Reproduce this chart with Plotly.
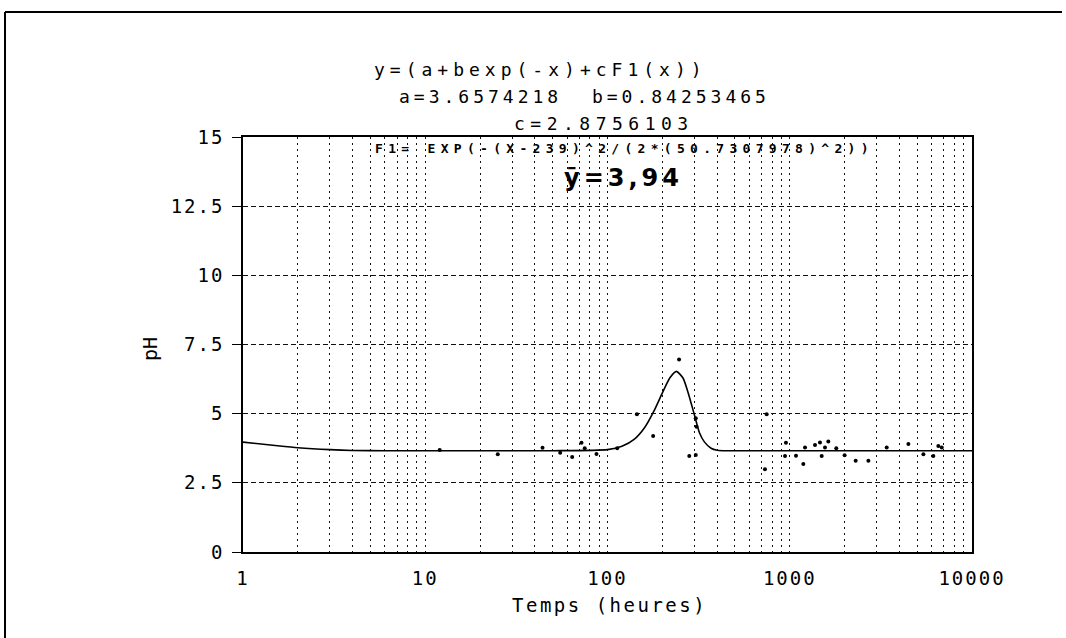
import plotly.graph_objects as go

# ---- data ----
curve_x = [1, 1.5, 2, 3, 4, 6, 10, 50, 100, 120, 140, 160, 180, 200, 220, 239, 260, 280, 300, 320, 340, 370, 400, 450, 10000]
curve_y = [3.97, 3.85, 3.77, 3.70, 3.67, 3.66, 3.66, 3.66, 3.70, 3.82, 4.07, 4.50, 5.10, 5.75, 6.30, 6.53, 6.28, 5.65, 4.95, 4.30, 3.98, 3.75, 3.68, 3.66, 3.66]

pts_x = [12, 25, 44, 55, 64, 72, 75, 87, 113, 145, 178, 247, 305, 308, 281, 305,
         731, 747, 942, 953, 1082, 1187, 1213, 1376, 1465, 1497, 1561, 1628,
         1800, 2000, 2300, 2700, 3404, 4477, 5412, 6136, 6535, 6823]
pts_y = [3.69, 3.53, 3.77, 3.59, 3.43, 3.95, 3.75, 3.54, 3.75, 4.98, 4.19, 6.96, 4.83, 4.53, 3.47, 3.51,
         2.99, 4.98, 3.47, 3.95, 3.48, 3.18, 3.78, 3.87, 3.96, 3.47, 3.78, 3.99,
         3.75, 3.50, 3.30, 3.30, 3.78, 3.90, 3.53, 3.47, 3.83, 3.78]

x_grid = [m * 10 ** e for e in range(0, 4) for m in range(1, 10)] + [10000]
x_major = [1, 10, 100, 1000, 10000]
y_ticks = [0, 2.5, 5, 7.5, 10, 12.5, 15]
y_labels = ["0", "2.5", "5", "7.5", "10", "12.5", "15"]

title_lines = ["y=(a+bexp(-x)+cF1(x))", "a=3.6574218  b=0.84253465", "c=2.8756103"]
f1_text = "F1= EXP(-(X-239)^2/(2*(50.7307978)^2))"
ybar_text = "ȳ=3,94"
x_title = "Temps (heures)"
y_title = "pH"

# ---- geometry (pixels) ----
W, H = 1066, 638
L, R, T, B = 243, 972, 137, 552
PW, PH = R - L, B - T


def px(x):
    return (x - L) / PW


def py(y):
    return (B - y) / PH


MONO = "DejaVu Sans Mono"


def sp(s, ls):
    return f"<span style='letter-spacing:{ls}px'>{s}</span>"


fig = go.Figure()
fig.add_trace(go.Scatter(x=curve_x, y=curve_y, mode="lines", line=dict(color="black", width=1.6, shape="spline", smoothing=0.6),
                         hoverinfo="skip", showlegend=False))
fig.add_trace(go.Scatter(x=pts_x, y=pts_y, mode="markers", marker=dict(color="black", size=4),
                         showlegend=False))

x_text = [sp(str(v), 2) if v in x_major else "" for v in x_grid]

fig.update_layout(
    width=W, height=H, autosize=False,
    margin=dict(l=L, r=W - R, t=T, b=H - B, pad=0),
    paper_bgcolor="white", plot_bgcolor="white",
    font=dict(family=MONO, color="black", size=19),
    xaxis=dict(type="log", range=[0, 4], tickmode="array", tickvals=x_grid, ticktext=x_text,
               showgrid=True, gridcolor="#111", gridwidth=1.3, griddash="2px,4px",
               showline=True, linecolor="black", linewidth=1.6, mirror=True,
               ticks="", ticklabelstandoff=8, zeroline=False,
               tickfont=dict(family=MONO, size=19)),
    yaxis=dict(range=[0, 15], tickmode="array", tickvals=y_ticks, ticktext=[sp(t, 2) for t in y_labels],
               showgrid=True, gridcolor="#111", gridwidth=1.2, griddash="5px,3px",
               showline=True, linecolor="black", linewidth=1.6, mirror=True,
               ticks="outside", ticklen=9, tickcolor="black", tickwidth=1.4,
               ticklabelstandoff=4, zeroline=False,
               tickfont=dict(family=MONO, size=19)),
)

ann = []
ann.append(dict(x=px(372), y=py(69), text=sp(title_lines[0], 5), xanchor="left", yanchor="middle",
                font=dict(family=MONO, size=18)))
ann.append(dict(x=px(397), y=py(96), text=sp(title_lines[1], 4), xanchor="left", yanchor="middle",
                font=dict(family=MONO, size=18)))
ann.append(dict(x=px(512), y=py(124), text=sp(title_lines[2], 5.5), xanchor="left", yanchor="middle",
                font=dict(family=MONO, size=18)))
ann.append(dict(x=px(373), y=py(148), text="<b>" + sp(f1_text, 5.3) + "</b>", xanchor="left", yanchor="middle",
                font=dict(family=MONO, size=13)))
ann.append(dict(x=px(562), y=py(178), text="<b>" + sp(ybar_text, 4) + "</b>", xanchor="left", yanchor="middle",
                font=dict(family="DejaVu Sans", size=24)))
ann.append(dict(x=px(609), y=py(605), text=sp(x_title, 2.5), xanchor="center", yanchor="middle",
                font=dict(family=MONO, size=19)))
ann.append(dict(x=px(150), y=py(349), text=y_title, textangle=-90, xanchor="center", yanchor="middle",
                font=dict(family=MONO, size=20)))
for a in ann:
    a.update(xref="paper", yref="paper", showarrow=False)
fig.update_layout(annotations=ann)

# page frame (top and left edges)
fig.add_shape(type="line", xref="paper", yref="paper", x0=px(5), x1=px(1062), y0=py(12), y1=py(12),
              line=dict(color="black", width=2))
fig.add_shape(type="line", xref="paper", yref="paper", x0=px(5), x1=px(5), y0=py(12), y1=py(638),
              line=dict(color="black", width=2))

fig.write_html("out.html")
